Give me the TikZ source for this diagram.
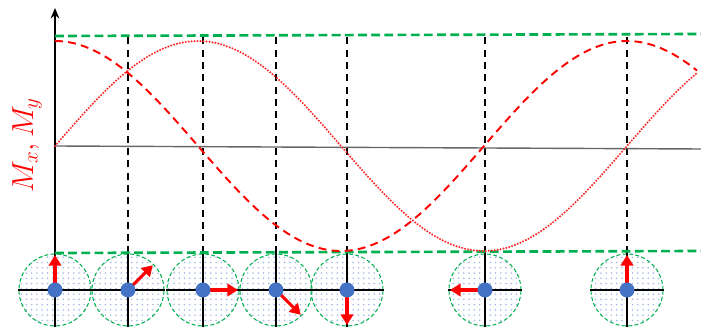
\documentclass[tikz,border=0pt]{standalone}
\usetikzlibrary{arrows.meta,patterns}
\definecolor{dgreen}{HTML}{00B050}
\definecolor{dotblue}{HTML}{4472C4}
\begin{document}
\begin{tikzpicture}[x=0.02cm,y=0.02cm,
    guide/.style={dgreen,line width=1.5pt,dash pattern=on 5pt off 2.5pt},
    marker/.style={black,line width=0.8pt,dash pattern=on 4pt off 3pt},
    spin/.style={circle,minimum size=1.44cm,inner sep=0pt,draw=dgreen,line width=0.6pt,
        dash pattern=on 2.2pt off 1.4pt,pattern=dots,pattern color=dotblue!50},
    cross/.style={black,line width=0.8pt},
    moment/.style={red,line width=1.8pt,-{Triangle[length=6pt,width=7pt]}},
    cosine/.style={red,line width=1.1pt,dash pattern=on 4.5pt off 3pt},
    sine/.style={red!85,line width=1.3pt,line cap=round,dash pattern=on 0pt off 1.7pt}]
    \useasboundingbox (0,0) rectangle (701,331);
    % reference lines
    \coordinate (o) at (55,185);
    \coordinate (xend) at (701,182);
    \coordinate (ytip) at (55,323);
    \coordinate (ttop) at (55,295);
    \coordinate (tend) at (701,297);
    \coordinate (btop) at (55,78);
    \coordinate (bend) at (701,80);
    % spins below the plot
    \foreach \px/\ang [count=\i] in {55/90,128/45,203/0,276/-45,347/-90,485/180,627/90}{
        \node[spin] (s\i) at (\px,41) {};
        \draw[cross] (s\i.west) -- (s\i.east) (s\i.north) -- (s\i.south);
    }
    \foreach \i in {2,...,7}
        \draw[marker] (s\i.north) -- (s\i.north |- ttop);
    \draw[gray!80!black,line width=0.8pt] (o) -- (xend);
    \draw[black,line width=0.8pt,-{Stealth[length=6pt,width=5pt]}] (s1.north) -- (ytip);
    \draw[guide] (ttop) -- (tend);
    \draw[guide] (btop) -- (bend);
    % M_x and M_y
    \draw[cosine] plot[domain=55:697,samples=150] (\x,{185+105*cos(0.62937*(\x-55))});
    \draw[sine] plot[domain=55:697,samples=150] (\x,{185+105*sin(0.62937*(\x-55))});
    \foreach \px/\ang [count=\i] in {55/90,128/45,203/0,276/-45,347/-90,485/180,627/90}{
        \draw[moment] (s\i.center) -- ++(\ang:35);
        \fill[dotblue] (s\i.center) circle[radius=0.15cm];
    }
    \node[red,rotate=90,font=\fontsize{17}{20}\selectfont] (lbl) at (27,186) {$M_x, M_y$};
\end{tikzpicture}
\end{document}
